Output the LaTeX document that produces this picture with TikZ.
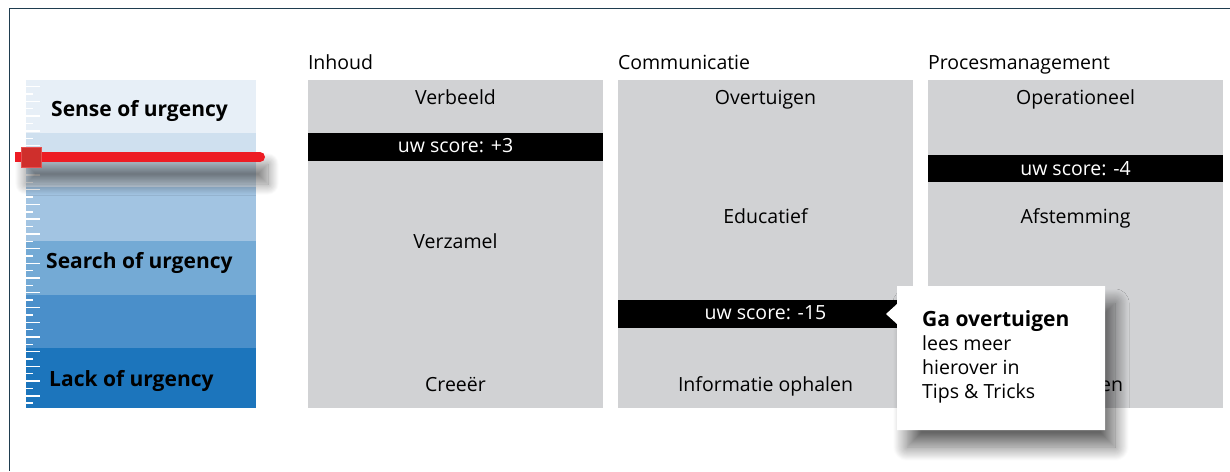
\documentclass[tikz,border=0pt]{standalone}
\usepackage{fontspec}
\setmainfont{Open Sans}
\usetikzlibrary{shadows.blur}
\definecolor{frameline}{HTML}{1F3D4F}
\definecolor{bandA}{HTML}{E7EFF7}
\definecolor{bandB}{HTML}{CFE0EF}
\definecolor{bandC}{HTML}{A2C4E2}
\definecolor{bandD}{HTML}{74AAD5}
\definecolor{bandE}{HTML}{4A8FCA}
\definecolor{bandF}{HTML}{1C75BC}
\definecolor{boxgray}{HTML}{D1D2D4}
\definecolor{sliderred}{HTML}{ED1C24}
\definecolor{knobred}{HTML}{CF2F2C}
\definecolor{knobedge}{HTML}{E65050}
\begin{document}
\begin{tikzpicture}[x=1pt,y=-1pt,
  txt/.style={anchor=base, inner sep=0pt, outer sep=0pt, font=\fontsize{19.5}{23}\selectfont},
  title/.style={txt, anchor=base west},
  gaugelbl/.style={anchor=base west, inner sep=0pt, font=\fontsize{21}{25}\selectfont\bfseries},
  colbox/.style={anchor=north west, fill=boxgray, minimum width=295pt, minimum height=328pt, inner sep=0pt, outer sep=0pt},
  scorebar/.style={anchor=north west, fill=black, minimum width=295pt, inner sep=0pt, outer sep=0pt},
  scoretxt/.style={txt, text=white},
  band/.style={anchor=north west, minimum width=230pt, inner sep=0pt, outer sep=0pt},
  tick/.style={draw=white, line width=1.4pt},
  calltxt/.style={anchor=base west, inner sep=0pt, font=\fontsize{19.5}{23}\selectfont}
]
\useasboundingbox (0,0) rectangle (1230,471);

% open frame: top and left rules
\coordinate (fTL) at (9.5,8.5);
\coordinate (fTR) at (1230,8.5);
\coordinate (fBL) at (9.5,471);
\draw[frameline, line width=1.6pt] (fTR) -- (fTL) -- (fBL);

% urgency gauge bands
\node[band, fill=bandA, minimum height=53pt] (g1) at (26,80) {};
\node[band, fill=bandB, minimum height=54pt] (g2) at (26,133) {};
\node[band, fill=bandC, minimum height=54pt] (g3) at (26,187) {};
\node[band, fill=bandD, minimum height=54pt] (g4) at (26,241) {};
\node[band, fill=bandE, minimum height=53pt] (g5) at (26,295) {};
\node[band, fill=bandF, minimum height=60pt] (g6) at (26,348) {};

% scale ticks along the left edge
\foreach \i in {0,...,43}{
  \pgfmathsetmacro\ty{86.7+\i*7.36}
  \ifodd\i
    \draw[tick] (26,\ty) -- (33,\ty);
  \else
    \draw[tick] (26,\ty) -- (40,\ty);
  \fi
}

\node[gaugelbl] (sense) at (51,116) {Sense of urgency};
\node[gaugelbl] (search) at (46,268.5) {Search of urgency};
\node[gaugelbl] (lack) at (49,386) {Lack of urgency};

% slider with its soft shadow
\path[blur shadow={shadow xshift=4pt, shadow yshift=-6pt, shadow blur radius=11pt, shadow blur steps=30, shadow opacity=50}] (22,158) rectangle (264,178);
\fill[sliderred] (15,152) rectangle (260,162);
\fill[sliderred] (260,157) circle (5);
\node[draw=knobedge, fill=knobred, line width=1.5pt, minimum size=20pt, inner sep=0pt] (knob) at (31.5,157.5) {};

% column boxes
\node[title] (tA) at (308,69) {Inhoud};
\node[title] (tB) at (618,69) {Communicatie};
\node[title] (tC) at (928,69) {Procesmanagement};

\node[colbox] (boxA) at (308,80) {};
\node[colbox] (boxB) at (618,80) {};
\node[colbox] (boxC) at (928,80) {};

\node[txt] (a1) at (455.5,104) {Verbeeld};
\node[txt] (a2) at (455.5,248) {Verzamel};
\node[txt] (a3) at (455.5,391.5) {Creeër};

\node[txt] (b1) at (765.5,104) {Overtuigen};
\node[txt] (b2) at (765.5,223) {Educatief};
\node[txt] (b3) at (765.5,391.5) {Informatie ophalen};

\node[txt] (c1) at (1075.5,104) {Operationeel};
\node[txt] (c2) at (1075.5,223) {Afstemming};
\node[txt, anchor=base east] (c3) at (1123,391.5) {en};

% score bars
\node[scorebar, minimum height=28pt] (sA) at (308,133) {};
\node[scoretxt] (sAt) at (455.5,152.5) {uw score: +3};
\node[scorebar, minimum height=28pt] (sB) at (618,300) {};
\node[scoretxt] (sBt) at (765.5,319.5) {uw score: -15};
\node[scorebar, minimum height=27pt] (sC) at (928,155) {};
\node[scoretxt] (sCt) at (1075.5,175) {uw score: -4};

% advice callout pointing at the communication score
\coordinate (tip) at (886,314);
\path[blur shadow={shadow xshift=10pt, shadow yshift=-17pt, shadow blur radius=14pt, shadow blur steps=30, shadow opacity=60}] (897,286) rectangle (1105,430);
\fill[white] (897,286) -- (1105,286) -- (1105,430) -- (897,430) -- (897,324) -- (tip) -- (897,304) -- cycle;
\node[calltxt, font=\fontsize{21}{25}\selectfont\bfseries] (k1) at (922,326) {Ga overtuigen};
\node[calltxt] (k2) at (922,350) {lees meer};
\node[calltxt] (k3) at (922,374) {hierover in};
\node[calltxt] (k4) at (922,398) {Tips \& Tricks};
\end{tikzpicture}
\end{document}
